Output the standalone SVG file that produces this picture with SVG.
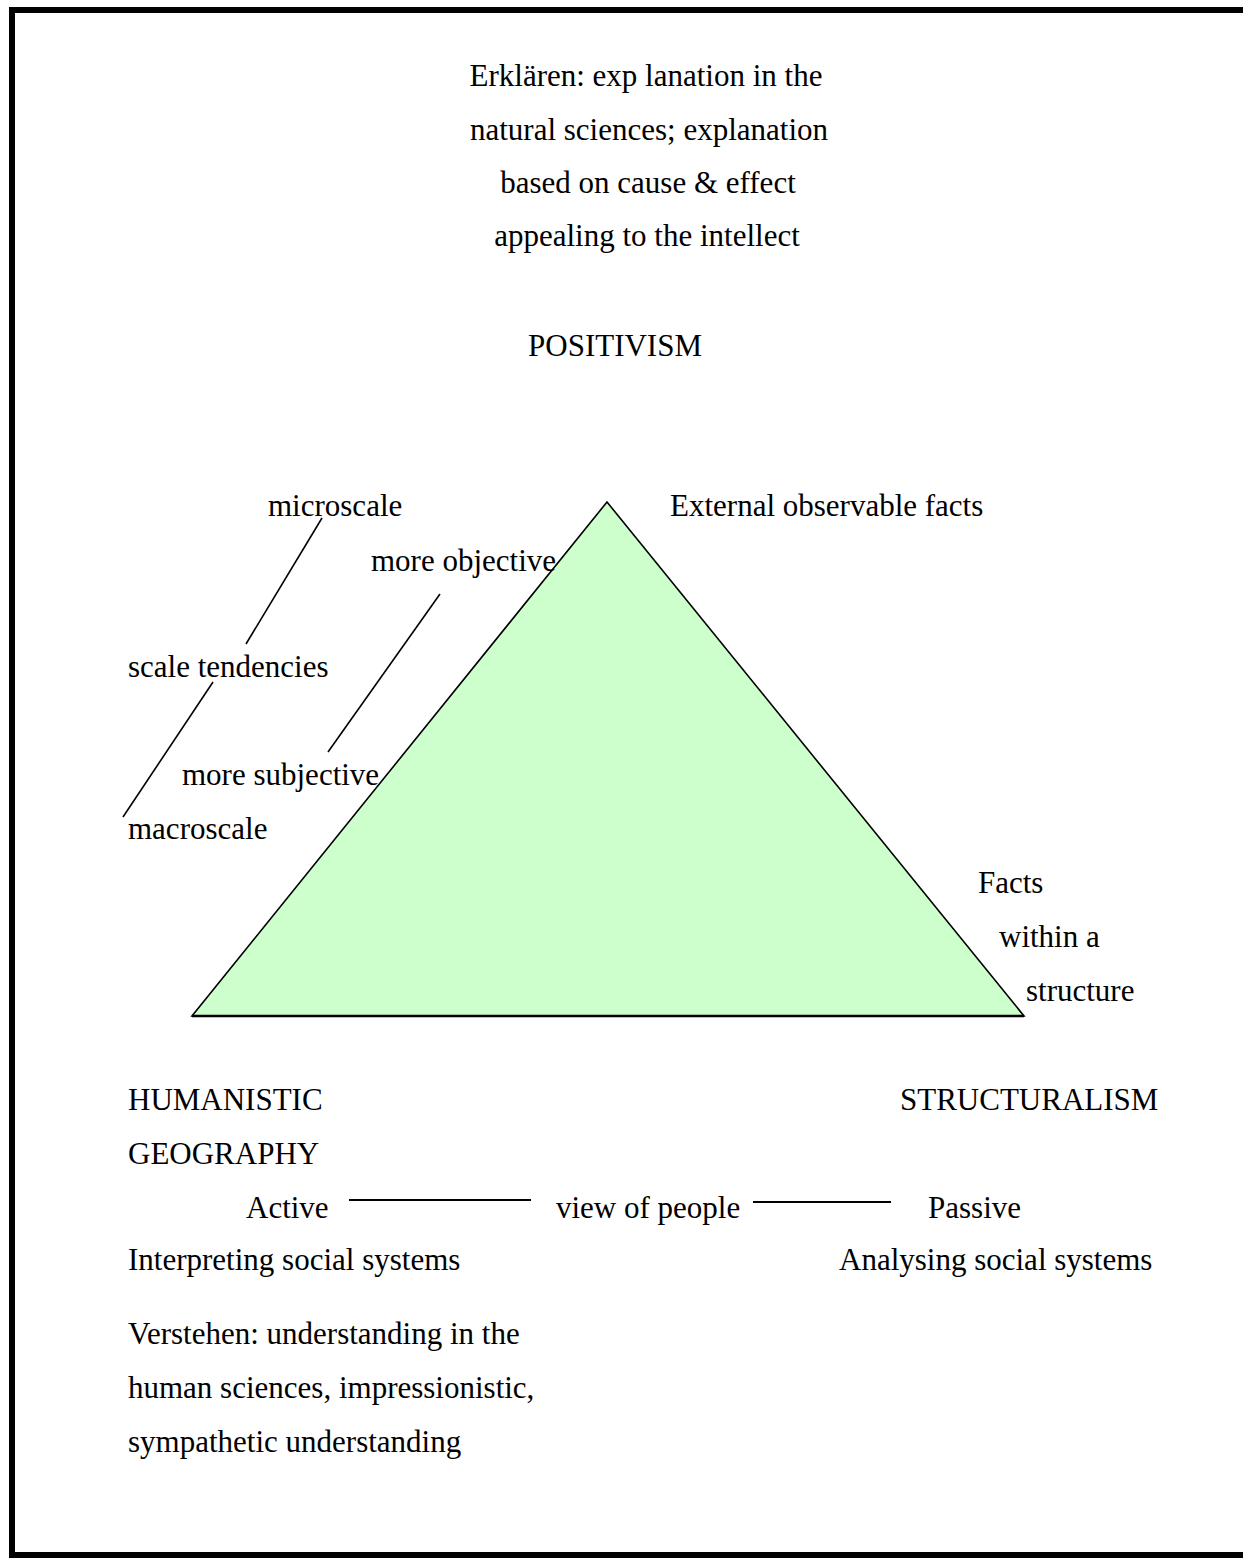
<svg xmlns="http://www.w3.org/2000/svg" width="1243" height="1558" viewBox="0 0 1243 1558">
<style>
text { font-family: "Liberation Serif", "Times New Roman", serif; font-size: 31px; fill: #000; }
.c { text-anchor: middle; }
.ln { stroke: #000; stroke-width: 1.6; fill: none; }
.hl { stroke: #000; stroke-width: 2.2; fill: none; }
</style>
<rect x="0" y="0" width="1243" height="1558" fill="#fff"/>
<rect x="12" y="10" width="1240" height="1545" fill="none" stroke="#000" stroke-width="6"/>
<g id="triangle">
  <polygon points="607,502 192,1016 1024,1016" fill="#CCFFCC" stroke="#000" stroke-width="1.6"/>
  <line x1="192" y1="1016" x2="1024" y2="1016" stroke="#000" stroke-width="2.4"/>
</g>
<g id="connectors">
  <line class="ln" x1="322" y1="518" x2="246" y2="644"/>
  <line class="ln" x1="440" y1="594" x2="328" y2="752"/>
  <line class="ln" x1="213" y1="682" x2="123" y2="817"/>
  <line class="hl" x1="349" y1="1200" x2="531" y2="1200"/>
  <line class="hl" x1="753" y1="1202" x2="891" y2="1202"/>
</g>
<g id="erklaren">
  <text class="c" x="646" y="86">Erklären: exp lanation in the</text>
  <text class="c" x="649" y="140">natural sciences; explanation</text>
  <text class="c" x="648" y="193">based on cause &amp; effect</text>
  <text class="c" x="647" y="246">appealing to the intellect</text>
</g>
<g id="positivism"><text class="c" x="615" y="356">POSITIVISM</text></g>
<g id="microscale"><text x="268" y="516">microscale</text></g>
<g id="external"><text x="670" y="516">External observable facts</text></g>
<g id="objective"><text x="371" y="571">more objective</text></g>
<g id="scale"><text x="128" y="677">scale tendencies</text></g>
<g id="subjective"><text x="182" y="785">more subjective</text></g>
<g id="macroscale"><text x="128" y="839">macroscale</text></g>
<g id="facts">
  <text x="978" y="893">Facts</text>
  <text x="999" y="947">within a</text>
  <text x="1026" y="1001">structure</text>
</g>
<g id="humanistic">
  <text x="128" y="1110">HUMANISTIC</text>
  <text x="128" y="1164">GEOGRAPHY</text>
</g>
<g id="structuralism"><text x="900" y="1110">STRUCTURALISM</text></g>
<g id="active"><text x="246" y="1218">Active</text></g>
<g id="view"><text x="556" y="1218">view of people</text></g>
<g id="passive"><text x="928" y="1218">Passive</text></g>
<g id="interpreting"><text x="128" y="1270">Interpreting social systems</text></g>
<g id="analysing"><text x="839" y="1270">Analysing social systems</text></g>
<g id="verstehen">
  <text x="128" y="1344">Verstehen: understanding in the</text>
  <text x="128" y="1398">human sciences, impressionistic,</text>
  <text x="128" y="1452">sympathetic understanding</text>
</g>
</svg>
